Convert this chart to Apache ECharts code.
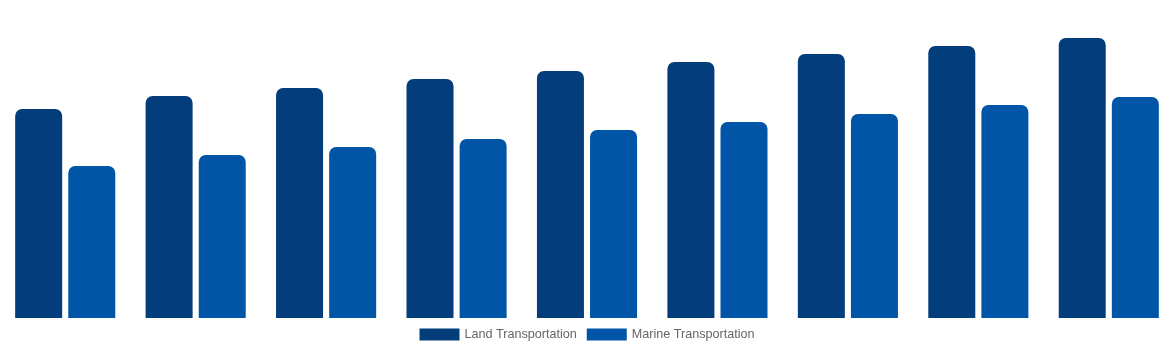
<!DOCTYPE html>
<html><head><meta charset="utf-8">
<script src="https://cdn.jsdelivr.net/npm/echarts@6/dist/echarts.min.js"></script>
<style>html,body{margin:0;padding:0;background:#fff}#c{width:1174px;height:350px}</style>
</head><body><div id="c"></div>
<script>
const categories = ['1','2','3','4','5','6','7','8','9'];
const landValues = [209, 222, 230, 239, 247, 256, 264, 272, 280];
const marineValues = [152, 163, 171, 179, 188, 196, 204, 213, 221];
const seriesNames = ['Land Transportation', 'Marine Transportation'];

const chart = echarts.init(document.getElementById('c'));
chart.setOption({
  animation: false,
  grid: {left: 0, right: 0, top: 0, bottom: 32, containLabel: false},
  legend: {
    top: 323, left: 'center', itemWidth: 40, itemHeight: 12, itemGap: 10,
    icon: 'rect',
    textStyle: {color: '#666', fontSize: 12.6, fontFamily: 'Arial, Liberation Sans, sans-serif'},
    data: seriesNames
  },
  xAxis: {type: 'category', data: categories, show: false, boundaryGap: true},
  yAxis: {type: 'value', min: 0, max: 318, show: false},
  series: [
    {name: seriesNames[0], type: 'bar', data: landValues, barWidth: 47, barGap: '13%',
     itemStyle: {color: '#033d7b', borderRadius: [7,7,0,0]}},
    {name: seriesNames[1], type: 'bar', data: marineValues, barWidth: 47,
     itemStyle: {color: '#0055a6', borderRadius: [7,7,0,0]}}
  ]
});
</script></body></html>
